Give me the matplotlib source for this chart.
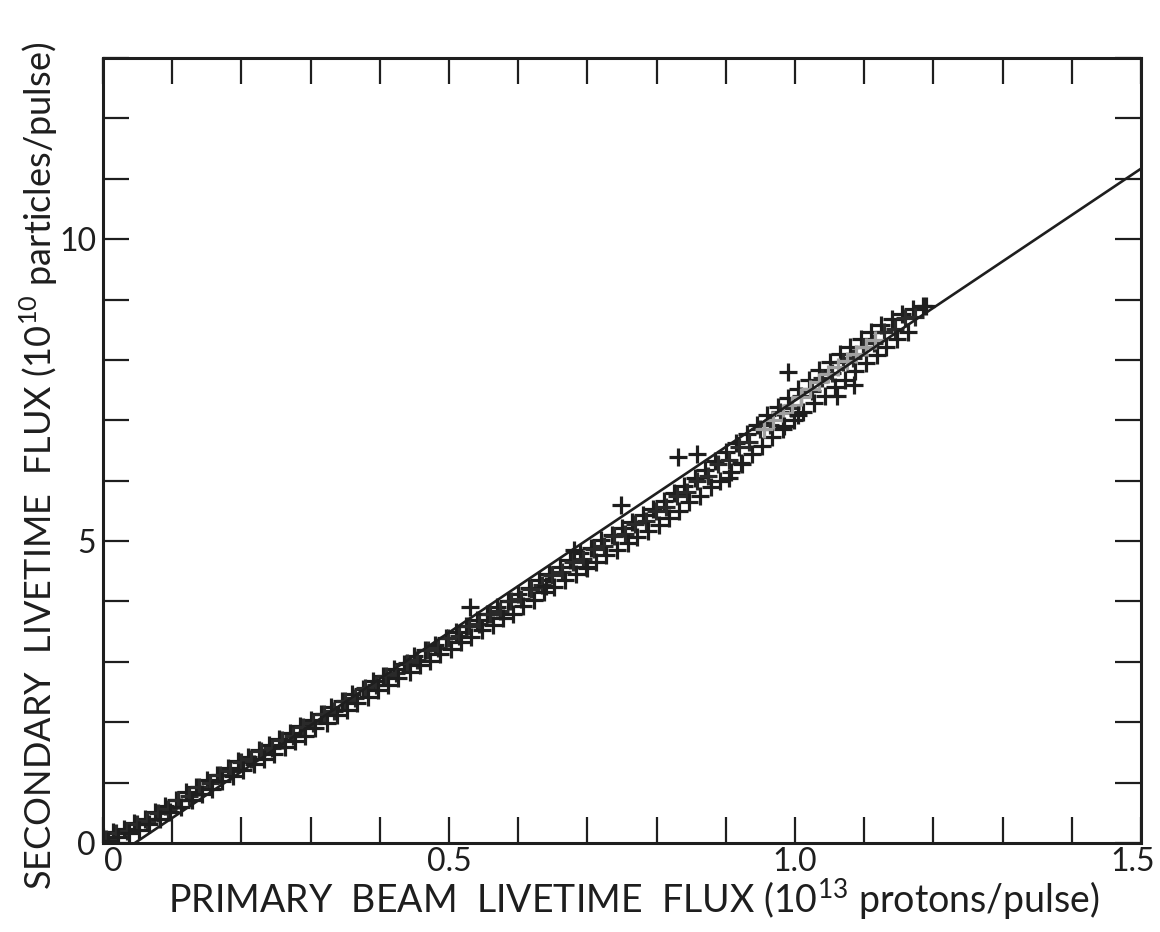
import numpy as np
import matplotlib
matplotlib.use("Agg")
import matplotlib.pyplot as plt
from matplotlib.transforms import ScaledTranslation

plt.rcParams['font.family'] = ['Lato', 'DejaVu Sans']
plt.rcParams['mathtext.fontset'] = 'custom'
plt.rcParams['mathtext.rm'] = 'Lato'

# upper edge of the band of measurements
x_upper = [0.000, 0.015, 0.030, 0.045, 0.060, 0.075, 0.090, 0.105, 0.120, 0.135,
           0.150, 0.165, 0.180, 0.195, 0.210, 0.225, 0.240, 0.255, 0.270, 0.285,
           0.300, 0.315, 0.330, 0.345, 0.360, 0.375, 0.390, 0.405, 0.420, 0.435,
           0.450, 0.465, 0.480, 0.495, 0.510, 0.525, 0.540, 0.555, 0.570, 0.585,
           0.600, 0.615, 0.630, 0.645, 0.660, 0.675, 0.690, 0.705, 0.720, 0.735,
           0.750, 0.765, 0.780, 0.795, 0.810, 0.825, 0.840, 0.855, 0.870, 0.885,
           0.900, 0.915, 0.930, 0.945, 0.960, 0.975, 0.990, 1.005, 1.020, 1.035,
           1.050, 1.065, 1.080, 1.095, 1.110, 1.125, 1.140, 1.155, 1.170, 1.185]
y_upper = [0.10, 0.18, 0.24, 0.33, 0.40, 0.52, 0.61, 0.71, 0.84, 0.93,
           1.05, 1.13, 1.25, 1.36, 1.43, 1.54, 1.62, 1.73, 1.82, 1.93,
           2.04, 2.13, 2.26, 2.35, 2.46, 2.55, 2.68, 2.77, 2.88, 2.97,
           3.09, 3.19, 3.28, 3.39, 3.49, 3.60, 3.69, 3.80, 3.91, 4.01,
           4.12, 4.22, 4.35, 4.45, 4.57, 4.68, 4.80, 4.89, 5.01, 5.10,
           5.21, 5.31, 5.43, 5.53, 5.66, 5.79, 5.92, 6.04, 6.18, 6.33,
           6.47, 6.62, 6.78, 6.92, 7.08, 7.22, 7.37, 7.52, 7.67, 7.83,
           7.97, 8.10, 8.22, 8.35, 8.46, 8.57, 8.68, 8.76, 8.84, 8.90]

# middle of the band
x_middle = [0.004, 0.019, 0.034, 0.049, 0.064, 0.079, 0.094, 0.109, 0.124, 0.139,
            0.154, 0.169, 0.184, 0.199, 0.214, 0.229, 0.244, 0.259, 0.274, 0.289,
            0.304, 0.319, 0.334, 0.349, 0.364, 0.379, 0.394, 0.409, 0.424, 0.439,
            0.454, 0.469, 0.484, 0.499, 0.514, 0.529, 0.544, 0.559, 0.574, 0.589,
            0.604, 0.619, 0.634, 0.649, 0.664, 0.679, 0.694, 0.709, 0.724, 0.739,
            0.754, 0.769, 0.784, 0.799, 0.814, 0.829, 0.844, 0.859, 0.874, 0.889,
            0.904, 0.919, 0.934, 0.949, 0.964, 0.979, 0.994, 1.009, 1.024, 1.039,
            1.054, 1.069, 1.084, 1.099, 1.114, 1.129, 1.144, 1.159, 1.174]
y_middle = [0.06, 0.17, 0.20, 0.31, 0.36, 0.50, 0.56, 0.71, 0.77, 0.92,
            0.99, 1.13, 1.19, 1.34, 1.39, 1.52, 1.57, 1.71, 1.77, 1.92,
            1.98, 2.14, 2.19, 2.35, 2.40, 2.56, 2.61, 2.77, 2.82, 2.98,
            3.03, 3.19, 3.23, 3.39, 3.43, 3.59, 3.63, 3.79, 3.84, 4.00,
            4.04, 4.21, 4.27, 4.44, 4.49, 4.66, 4.71, 4.87, 4.92, 5.08,
            5.12, 5.29, 5.34, 5.50, 5.56, 5.75, 5.82, 6.00, 6.07, 6.27,
            6.34, 6.55, 6.64, 6.85, 6.93, 7.13, 7.21, 7.41, 7.49, 7.70,
            7.78, 7.97, 8.03, 8.22, 8.28, 8.46, 8.52, 8.69, 8.71]

# lower edge of the band
x_lower = [0.007, 0.022, 0.037, 0.052, 0.067, 0.083, 0.097, 0.112, 0.128, 0.143,
           0.157, 0.172, 0.188, 0.203, 0.218, 0.232, 0.247, 0.263, 0.278, 0.292,
           0.307, 0.323, 0.338, 0.352, 0.367, 0.383, 0.398, 0.412, 0.427, 0.443,
           0.458, 0.472, 0.487, 0.503, 0.518, 0.532, 0.547, 0.563, 0.578, 0.592,
           0.607, 0.623, 0.638, 0.652, 0.667, 0.683, 0.698, 0.712, 0.727, 0.743,
           0.758, 0.772, 0.787, 0.803, 0.818, 0.832, 0.847, 0.863, 0.878, 0.892,
           0.907, 0.923, 0.938, 0.952, 0.967, 0.983, 0.998, 1.012, 1.027, 1.043,
           1.058, 1.072, 1.087, 1.103, 1.118, 1.132, 1.147, 1.163]
y_lower = [0.04, 0.10, 0.16, 0.22, 0.31, 0.40, 0.51, 0.59, 0.71, 0.81,
           0.90, 1.02, 1.11, 1.21, 1.30, 1.39, 1.47, 1.59, 1.69, 1.78,
           1.90, 1.99, 2.12, 2.21, 2.32, 2.41, 2.53, 2.61, 2.73, 2.83,
           2.94, 3.02, 3.13, 3.21, 3.33, 3.41, 3.52, 3.61, 3.73, 3.80,
           3.93, 4.02, 4.15, 4.24, 4.36, 4.45, 4.57, 4.65, 4.77, 4.85,
           4.97, 5.06, 5.17, 5.26, 5.39, 5.50, 5.64, 5.74, 5.89, 6.00,
           6.15, 6.28, 6.44, 6.58, 6.73, 6.85, 7.00, 7.13, 7.28, 7.41,
           7.55, 7.67, 7.81, 7.95, 8.08, 8.21, 8.35, 8.47]

# pale overprinted core of the band near 1.0
x_core = [0.955, 0.968, 0.982, 0.995, 1.008, 1.022, 1.035, 1.048, 1.062, 1.075, 1.088, 1.102, 1.115]
y_core = [6.86, 7.00, 7.12, 7.25, 7.38, 7.52, 7.63, 7.76, 7.88, 7.99, 8.10, 8.22, 8.33]

# stray points off the band
x_stray = [0.530, 0.680, 0.748, 0.831, 0.858, 0.990, 1.085, 1.190, 0.922, 0.984,
           1.004, 0.700, 0.640, 0.905, 1.060]
y_stray = [3.90, 4.85, 5.59, 6.39, 6.44, 7.80, 7.59, 8.90, 6.29, 6.90,
           7.09, 4.55, 4.25, 6.05, 7.40]

# fitted straight line: y = slope * (x - x0)
fit_slope = 7.68
fit_x0 = 0.046

ink = '#1e1e1e'

fig = plt.figure(figsize=(11.6, 9.32), dpi=100)
ax = fig.add_axes([0.0888, 0.0955, 0.8948, 0.8423])

mk = dict(marker='+', linestyle='none', markersize=13, markeredgewidth=2.3)
ax.plot(x_upper, y_upper, color=ink, **mk)
ax.plot(x_middle, y_middle, color='#2a2a2a', **mk)
ax.plot(x_lower, y_lower, color=ink, **mk)
ax.plot(x_core, y_core, color='#a0a0a0', **mk)
ax.plot(x_stray, y_stray, color=ink, **mk)

xf = np.array([fit_x0, 1.5])
ax.plot(xf, fit_slope * (xf - fit_x0), color=ink, linewidth=1.9)

ax.set_xlim(0, 1.5)
ax.set_ylim(0, 13)
ax.set_xticks(np.arange(0, 1.51, 0.1))
ax.set_xticklabels(['0', '', '', '', '', '0.5', '', '', '', '', '1.0', '', '', '', '', '1.5'])
ax.set_yticks(np.arange(0, 14, 1))
ax.set_yticklabels(['0', '', '', '', '', '5', '', '', '', '', '10', '', '', ''])
ax.tick_params(direction='in', length=19, width=1.6, top=True, right=True,
               labelsize=23, colors=ink)
ax.tick_params(axis='x', pad=3)
ax.tick_params(axis='y', pad=5)
for s in ax.spines.values():
    s.set_linewidth(2.2)
    s.set_color(ink)

# nudge the end labels as in the original
xl = ax.get_xticklabels()
xl[0].set_transform(xl[0].get_transform() + ScaledTranslation(0.10, 0, fig.dpi_scale_trans))
xl[-1].set_transform(xl[-1].get_transform() + ScaledTranslation(-0.08, 0, fig.dpi_scale_trans))

ax.set_xlabel(r'PRIMARY  BEAM  LIVETIME  FLUX (10$^{13}$ protons/pulse)',
              fontsize=27, color=ink, va='center')
ax.xaxis.set_label_coords(0.512, -0.073)
ax.set_ylabel(r'SECONDARY  LIVETIME  FLUX (10$^{10}$ particles/pulse)',
              fontsize=26, color=ink, va='center')
ax.yaxis.set_label_coords(-0.062, 0.48)

fig.savefig('out.png', dpi=100)
